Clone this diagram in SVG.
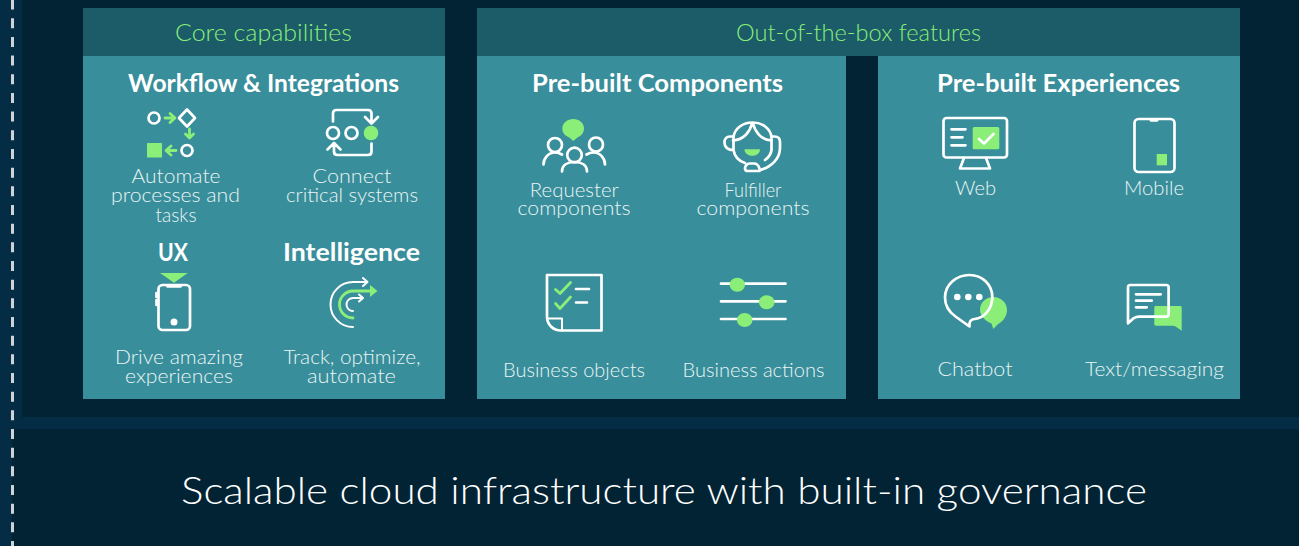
<svg xmlns="http://www.w3.org/2000/svg" width="1299" height="546" viewBox="0 0 1299 546">
<style>
text{font-family:"Lato","Noto Sans","Liberation Sans",sans-serif;text-anchor:middle}
.body{fill:#388e9a}.hdr{fill:#1b5c68}
.h{font-size:24px;font-weight:300;fill:#8aee78}
.t{font-size:24px;font-weight:700;fill:#fff}
.l{font-size:19px;fill:#eaf5f5;font-weight:300}
.w{fill:none;stroke:#fff;stroke-width:2.7;stroke-linecap:round;stroke-linejoin:round}
.wt{fill:none;stroke:#fff;stroke-width:2;stroke-linecap:round;stroke-linejoin:round}
.g{fill:#8aee78}
.gs{fill:none;stroke:#8aee78;stroke-width:2.8;stroke-linecap:round;stroke-linejoin:round}
.f{fill:#fff}
</style>
<rect width="1299" height="546" fill="#012333"/>
<rect width="22" height="417" fill="#042c44"/>
<rect y="417" width="1299" height="12" fill="#042c44"/>
<rect y="429" width="12" height="117" fill="#042c44"/>
<line x1="12.500" y1="-0.400" x2="12.500" y2="546" stroke="#cdd3d6" stroke-width="3" stroke-dasharray="10 8.670"/>

<g id="panel-core">
<rect class="hdr" x="83" y="8" width="362" height="48"/>
<rect class="body" x="83" y="56" width="362" height="343"/>
<text class="h" x="263.500" y="41" textLength="177" lengthAdjust="spacingAndGlyphs">Core capabilities</text>
<text class="t" x="263.500" y="92" textLength="271" lengthAdjust="spacingAndGlyphs">Workflow &amp; Integrations</text>
<text class="t" x="173" y="261" textLength="30" lengthAdjust="spacingAndGlyphs">UX</text>
<text class="t" x="351.500" y="261" textLength="137" lengthAdjust="spacingAndGlyphs">Intelligence</text>
</g>
<g id="panel-oob">
<rect class="hdr" x="477" y="8" width="763" height="48"/>
<text class="h" x="858.500" y="41" textLength="245" lengthAdjust="spacingAndGlyphs">Out-of-the-box features</text>
</g>
<g id="panel-components">
<rect class="body" x="477" y="56" width="369" height="343"/>
<text class="t" x="657.500" y="92" textLength="251" lengthAdjust="spacingAndGlyphs">Pre-built Components</text>
</g>
<g id="panel-experiences">
<rect class="body" x="878" y="56" width="362" height="343"/>
<text class="t" x="1058.500" y="92" textLength="243" lengthAdjust="spacingAndGlyphs">Pre-built Experiences</text>
</g>

<g id="automate">
<circle class="w" cx="154" cy="118" r="5.500"/>
<path class="w" d="M187 109.500l8 8.500-8 8.500-8-8.500z"/>
<path class="gs" d="M165 118h9.500M170 113.500l5 4.500-5 4.500"/>
<path class="gs" d="M189.500 129v8M185.500 134l4 4 4-4"/>
<rect class="g" x="147" y="143" width="15" height="14.500"/>
<path class="gs" d="M176 150.500h-9.500M171 146l-5 4.500 5 4.500"/>
<circle class="w" cx="187" cy="150.500" r="5.500"/>
<text class="l" x="176" y="183" textLength="89" lengthAdjust="spacingAndGlyphs">Automate</text>
<text class="l" x="175.500" y="202" textLength="129" lengthAdjust="spacingAndGlyphs">processes and</text>
<text class="l" x="176" y="221.500" textLength="41" lengthAdjust="spacingAndGlyphs">tasks</text>
</g>
<g id="connect">
<path class="w" d="M333 121.500v-8q0-3.500 3.500-3.500h31.500q3.500 0 3.500 3.500v9.500M365 117l6.500 6.500 6.500-6.500"/>
<circle class="w" cx="333" cy="133" r="6"/>
<circle class="w" cx="351.500" cy="133" r="6"/>
<circle class="g" cx="371" cy="133" r="7.300"/>
<path class="w" d="M371.500 143.500v8q0 3.500-3.500 3.500h-30.500q-3.500 0-3.500-3.500v-8M327.500 149.500l6.500-6.500 6.500 6.500"/>
<text class="l" x="352" y="183" textLength="79" lengthAdjust="spacingAndGlyphs">Connect</text>
<text class="l" x="352" y="202" textLength="132" lengthAdjust="spacingAndGlyphs">critical systems</text>
</g>
<g id="ux">
<path class="g" d="M160 273h27.700l-13.700 9.700z"/>
<rect class="w" x="158.500" y="285" width="31.500" height="45" rx="4"/>
<path class="w" d="M167.500 286.500h13"/>
<path class="w" d="M156.500 293v4M156.500 300v5"/>
<circle class="f" cx="174" cy="322" r="3.500"/>
<text class="l" x="179" y="364" textLength="128" lengthAdjust="spacingAndGlyphs">Drive amazing</text>
<text class="l" x="179" y="383" textLength="108" lengthAdjust="spacingAndGlyphs">experiences</text>
</g>
<g id="intelligence">
<path class="wt" d="M353 327a22.500 22.500 0 0 1 0-45h13.500M363 278l4.500 4-4.500 4"/>
<path class="gs" d="M353 318a13.500 13.500 0 0 1 0-27h18"/>
<path class="g" d="M370 285l7.500 6-7.500 6z"/>
<path class="wt" d="M353 311a6.500 6.500 0 0 1 0-13h9M359 294.500l4 3.500-4 3.500"/>
<text class="l" x="352" y="364" textLength="137" lengthAdjust="spacingAndGlyphs">Track, optimize,</text>
<text class="l" x="351.500" y="383" textLength="89" lengthAdjust="spacingAndGlyphs">automate</text>
</g>

<g id="requester">
<path class="g" d="M573.300 119c6 0 10.700 4 10.700 9.500 0 4.500-3 7.500-6.500 9l-4.200 3.500-4-3.500c-4-1.500-7-4.500-7-9 0-5.500 5-9.500 11-9.500z"/>
<circle class="w" cx="555" cy="145" r="7"/>
<circle class="w" cx="596" cy="144.500" r="7"/>
<circle class="w" cx="574.500" cy="155" r="7.300"/>
<path class="w" d="M543.500 164.500c0-6.500 5-12 11.500-12 2.500 0 5 .8 7 2M605 164.500c0-6.500-5-12-11.500-12-2.500 0-5 .8-7 2"/>
<path class="w" d="M562 171.500c0-6.500 5.500-9.500 12.500-9.500s12.500 3 12.500 9.500"/>
<text class="l" x="574.300" y="197" textLength="89" lengthAdjust="spacingAndGlyphs">Requester</text>
<text class="l" x="574" y="215" textLength="113" lengthAdjust="spacingAndGlyphs">components</text>
</g>
<g id="fulfiller">
<path class="w" d="M733.500 136.500c1.500-8 9-14 19-14s17.500 6 19 14"/>
<path class="w" d="M752 123.500c-2 8-8 16.500-19 17M753 123.500c2 8 8 16.500 18.500 17"/>
<path class="w" d="M733.500 136.500h-3.500c-3.500 0-5.500 2.500-5.500 6s2 7.500 9 7.500M733.500 136.500v13.500c1 6 5 11 11.500 13"/>
<path class="w" d="M771.500 136.500h3c3.500 0 5.500 2 5.500 5.500v6c0 10-8 19-20 22M771.500 137v13c-.5 4-3 7.500-6.500 10"/>
<path class="g" d="M744.500 149.300h15.500c0 4-3.300 6.500-7.700 6.500s-7.800-2.500-7.800-6.500z"/>
<path class="w" d="M759.500 171h-12c-1.500 0-2.500-1-2.500-2.800s2-4.700 4.500-4.700h4.500c2.500 0 4.500 2 5.500 5"/>
<text class="l" x="753" y="197" textLength="57" lengthAdjust="spacingAndGlyphs">Fulfiller</text>
<text class="l" x="753" y="215" textLength="113" lengthAdjust="spacingAndGlyphs">components</text>
</g>
<g id="objects">
<path class="w" d="M547 275h54.500v55.500H561c-8 0-14-6-14-14z"/>
<path class="wt" d="M548 318.500h14v12"/>
<path class="gs" d="M555.500 289.500l4.500 4 10.500-11M555.500 303.500l4.500 5 10.500-11.500"/>
<path class="w" d="M576 289h13M576 302.500h11"/>
<text class="l" x="574" y="377" textLength="142" lengthAdjust="spacingAndGlyphs">Business objects</text>
</g>
<g id="actions">
<path class="w" d="M721 283.700h64.500M721 301.300h64.500M721 319h64.500"/>
<ellipse class="g" cx="737.300" cy="284.700" rx="7.800" ry="7"/>
<ellipse class="g" cx="766.700" cy="302.300" rx="7.800" ry="7"/>
<ellipse class="g" cx="744.700" cy="320" rx="7.800" ry="7"/>
<text class="l" x="753.500" y="377" textLength="142" lengthAdjust="spacingAndGlyphs">Business actions</text>
</g>

<g id="web">
<rect class="w" x="943.500" y="118" width="63.500" height="39.500" rx="3"/>
<path class="w" d="M964 158l-4 10.500h30l-4-10.500"/>
<path class="w" d="M951.500 129.300h14M951.500 137.300h11M951.500 145.300h14"/>
<rect class="g" x="972.700" y="127" width="26.600" height="22.300" rx="1.500"/>
<path class="w" d="M979 139l5 4.500 9.500-9.500"/>
<text class="l" x="975.500" y="195" textLength="41" lengthAdjust="spacingAndGlyphs">Web</text>
</g>
<g id="mobile">
<rect class="w" x="1134.500" y="119" width="40" height="53" rx="4"/>
<path class="w" d="M1151 120.500h6"/>
<rect class="g" x="1156.700" y="154" width="10.300" height="11.300"/>
<text class="l" x="1154" y="195" textLength="60" lengthAdjust="spacingAndGlyphs">Mobile</text>
</g>
<g id="chatbot">
<path class="g" d="M993.300 297c7.500 0 13.700 5.500 13.700 13 0 7-4.500 11.500-9.500 14.500l-4.200 4.500-1.800-5.500c-6-2.500-11.500-7.500-11.500-13.500 0-7.500 6-13 13.300-13z"/>
<path class="w" d="M969.500 275c13 0 23 10 22.800 22.500-.2 11.500-8 20.500-17.500 21.500-3 .3-5 2-5.300 4.500v3l-14-10c-6.500-4.500-10.500-11-10.500-19 0-12.500 11-22.500 24.500-22.500z"/>
<circle class="f" cx="957.300" cy="297" r="3.300"/>
<circle class="f" cx="968.300" cy="297" r="3.300"/>
<circle class="f" cx="979.300" cy="297" r="3.300"/>
<text class="l" x="975" y="376" textLength="75" lengthAdjust="spacingAndGlyphs">Chatbot</text>
</g>
<g id="textmsg">
<path class="g" d="M1156 306h24c1 0 1.700.7 1.700 1.700v23l-6-4.200c-1-.6-2-.8-3-.8h-16.700c-1 0-1.700-.7-1.700-1.700v-16.500c0-1 .7-1.700 1.700-1.700z"/>
<path class="w" d="M1128 323.300v-36c0-1.300 1-2.300 2.300-2.300h36c1.300 0 2.300 1 2.300 2.300v27c0 1.300-1 2.300-2.300 2.300h-27c-2 0-4 .5-5.500 1.500z"/>
<path class="w" d="M1136 294.300h24.700M1136 300.700h15.700M1136 307.300h10.700"/>
<text class="l" x="1154.500" y="376" textLength="139" lengthAdjust="spacingAndGlyphs">Text/messaging</text>
</g>
<text x="664" y="504" font-size="38" font-weight="300" fill="#fff" textLength="966" lengthAdjust="spacingAndGlyphs">Scalable cloud infrastructure with built-in governance</text>
</svg>
